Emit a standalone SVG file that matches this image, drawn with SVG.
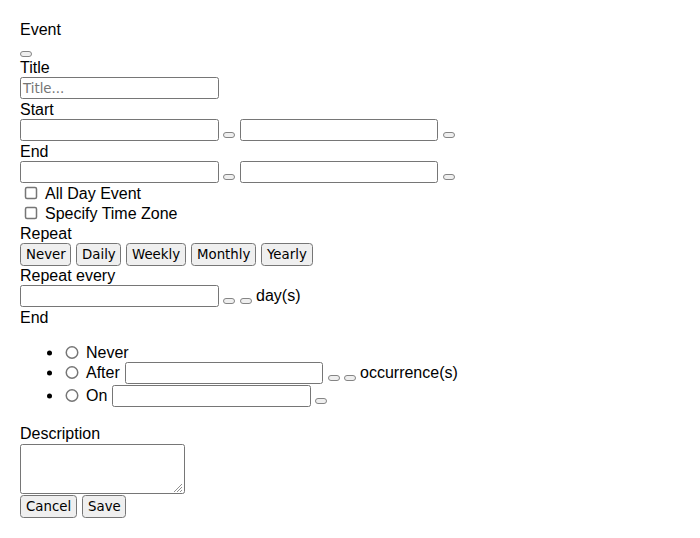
<svg xmlns="http://www.w3.org/2000/svg" width="700" height="538" viewBox="0 0 700 538">
<style>
.lbl{font-family:"Liberation Sans",Arial,sans-serif;font-size:16px;fill:#000}
.btxt{font-family:"DejaVu Sans",sans-serif;font-size:13.33px;fill:#000}
.ph{font-family:"DejaVu Sans",sans-serif;font-size:13.33px;fill:#757575}
.inp{fill:#fff;stroke:#767676;stroke-width:1}
.sb{fill:#efefef;stroke:#858585;stroke-width:1}
.btn{fill:#efefef;stroke:#767676;stroke-width:1}
.chk{fill:#fff;stroke:#767676;stroke-width:1.5}
</style>
<rect width="700" height="538" fill="#fff"/>
<g id="header">
<text class="lbl" x="20" y="35">Event</text>
<rect class="sb" x="20.5" y="51.5" width="11" height="5" rx="2.5"/>
</g>
<g id="title">
<text class="lbl" x="20" y="73">Title</text>
<rect class="inp" x="20.5" y="77.5" width="198" height="21" rx="2"/>
<text class="ph" x="23" y="93">Title...</text>
</g>
<g id="start">
<text class="lbl" x="20" y="115">Start</text>
<rect class="inp" x="20.5" y="119.5" width="198" height="21" rx="2"/>
<rect class="sb" x="223.5" y="132.5" width="11" height="5" rx="2.5"/>
<rect class="inp" x="240.5" y="119.5" width="197" height="21" rx="2"/>
<rect class="sb" x="443.5" y="132.5" width="11" height="5" rx="2.5"/>
</g>
<g id="end">
<text class="lbl" x="20" y="157">End</text>
<rect class="inp" x="20.5" y="161.5" width="198" height="21" rx="2"/>
<rect class="sb" x="223.5" y="174.5" width="11" height="5" rx="2.5"/>
<rect class="inp" x="240.5" y="161.5" width="197" height="21" rx="2"/>
<rect class="sb" x="443.5" y="174.5" width="11" height="5" rx="2.5"/>
</g>
<g id="allday">
<rect class="chk" x="25.5" y="187.5" width="11" height="11" rx="1.5"/>
<text class="lbl" x="45" y="199">All Day Event</text>
</g>
<g id="timezone">
<rect class="chk" x="25.5" y="207.5" width="11" height="11" rx="1.5"/>
<text class="lbl" x="45" y="219">Specify Time Zone</text>
</g>
<g id="repeat">
<text class="lbl" x="20" y="239">Repeat</text>
<rect class="btn" x="20.5" y="243.5" width="50" height="22" rx="3"/>
<text class="btxt" x="26" y="259">Never</text>
<rect class="btn" x="76.5" y="243.5" width="44" height="22" rx="3"/>
<text class="btxt" x="82" y="259">Daily</text>
<rect class="btn" x="126.5" y="243.5" width="59" height="22" rx="3"/>
<text class="btxt" x="132" y="259">Weekly</text>
<rect class="btn" x="191.5" y="243.5" width="64" height="22" rx="3"/>
<text class="btxt" x="197" y="259">Monthly</text>
<rect class="btn" x="261.5" y="243.5" width="51" height="22" rx="3"/>
<text class="btxt" x="267" y="259">Yearly</text>
</g>
<g id="repeat-every">
<text class="lbl" x="20" y="281">Repeat every</text>
<rect class="inp" x="20.5" y="285.5" width="198" height="21" rx="2"/>
<rect class="sb" x="223.5" y="298.5" width="11" height="5" rx="2.5"/>
<rect class="sb" x="240.5" y="298.5" width="11" height="5" rx="2.5"/>
<text class="lbl" x="256" y="301">day(s)</text>
</g>
<g id="end-options">
<text class="lbl" x="20" y="323">End</text>
<circle cx="49.5" cy="353" r="2.5" fill="#000"/>
<circle cx="72" cy="352.5" r="5.75" fill="#fff" stroke="#767676" stroke-width="1.5"/>
<text class="lbl" x="86" y="358">Never</text>
<circle cx="49.5" cy="373" r="2.5" fill="#000"/>
<circle cx="72" cy="372.5" r="5.75" fill="#fff" stroke="#767676" stroke-width="1.5"/>
<text class="lbl" x="86" y="378">After</text>
<rect class="inp" x="125.5" y="362.5" width="197" height="21" rx="2"/>
<rect class="sb" x="328.5" y="375.5" width="11" height="5" rx="2.5"/>
<rect class="sb" x="344.5" y="375.5" width="11" height="5" rx="2.5"/>
<text class="lbl" x="360" y="378">occurrence(s)</text>
<circle cx="49.5" cy="396" r="2.5" fill="#000"/>
<circle cx="72" cy="395.5" r="5.75" fill="#fff" stroke="#767676" stroke-width="1.5"/>
<text class="lbl" x="86" y="401">On</text>
<rect class="inp" x="112.5" y="385.5" width="198" height="21" rx="2"/>
<rect class="sb" x="315.5" y="398.5" width="11" height="5" rx="2.5"/>
</g>
<g id="description">
<text class="lbl" x="20" y="439">Description</text>
<rect class="inp" x="20.5" y="444.5" width="164" height="49" rx="2"/>
<path d="M182 484 L174 492 M182 487 L177 492 M182 490 L180 492" stroke="#909090" stroke-width="1"/>
</g>
<g id="actions">
<rect class="btn" x="20.5" y="495.5" width="56" height="22" rx="3"/>
<text class="btxt" x="26" y="511">Cancel</text>
<rect class="btn" x="82.5" y="495.5" width="43" height="22" rx="3"/>
<text class="btxt" x="88" y="511">Save</text>
</g>
</svg>
